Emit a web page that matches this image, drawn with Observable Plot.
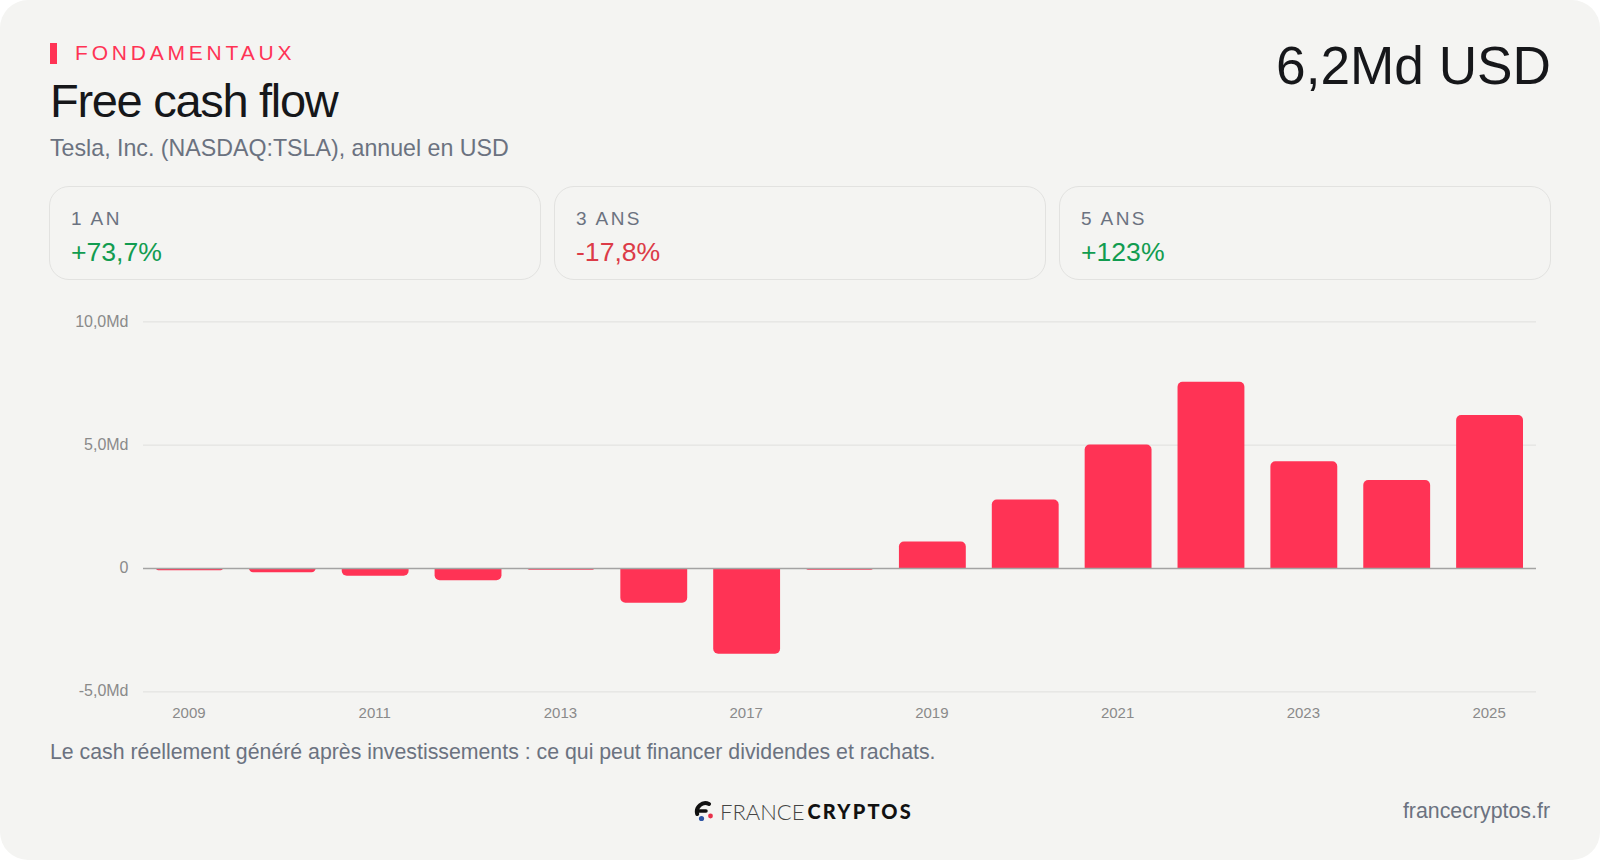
<!DOCTYPE html>
<html lang="fr">
<head>
<meta charset="utf-8">
<title>Free cash flow</title>
<script src="https://cdn.jsdelivr.net/npm/d3@7"></script>
<script src="https://cdn.jsdelivr.net/npm/@observablehq/plot@0.6"></script>
<style>
html,body{margin:0;padding:0;background:#fff;width:1600px;height:860px;overflow:hidden}
body{font-family:"Liberation Sans",Arial,sans-serif}
#card{position:absolute;left:0;top:0;width:1600px;height:860px;background:#f4f4f2;border-radius:28px;overflow:hidden}
#card>div{position:absolute;white-space:nowrap}
.kpi{box-sizing:border-box;top:186px;height:94px;width:492px;border:1.5px solid #e2e2e0;border-radius:20px}
.kpi .l{position:absolute;left:21px;top:21px;font-size:19px;letter-spacing:2.4px;color:#6b7280;line-height:22px}
.kpi .v{position:absolute;left:21px;top:49px;font-size:26.6px;line-height:32px;letter-spacing:0}
#chart{left:0;top:300px;width:1600px;height:440px}
#chart svg{display:block;overflow:visible}
</style>
</head>
<body>
<div id="card">
  <div id="bar" style="left:50px;top:43px;width:7px;height:21px;background:#ff3355"></div>
  <div id="eyebrow" style="left:75px;top:39.5px;font-size:21px;line-height:26px;letter-spacing:3.8px;color:#ff3355"></div>
  <div id="title" style="left:50px;top:72px;font-size:47px;line-height:58px;letter-spacing:-1.3px;color:#16171a"></div>
  <div id="subtitle" style="left:50px;top:133px;font-size:23.2px;line-height:30px;color:#6b7280"></div>
  <div id="big" style="right:49px;top:33px;font-size:53.2px;line-height:66px;color:#16171a"></div>
  <div class="kpi" style="left:49px"><span class="l"></span><span class="v"></span></div>
  <div class="kpi" style="left:554px"><span class="l"></span><span class="v"></span></div>
  <div class="kpi" style="left:1059px"><span class="l"></span><span class="v"></span></div>
  <div id="chart"></div>
  <div id="note" style="left:50px;top:737px;font-size:21.3px;line-height:30px;color:#6b7280"></div>
  <div id="logo" style="left:694px;top:797px;height:28px;display:flex;align-items:center">
    <svg width="22" height="24" viewBox="0 0 22 24" style="margin-right:4px">
      <path d="M15 5 A8.5 8.5 0 0 0 3.2 15" fill="none" stroke="#111" stroke-width="4" stroke-linecap="round"/>
      <path d="M3.5 12 H12" stroke="#111" stroke-width="3.5" stroke-linecap="round"/>
      <circle cx="7.5" cy="19.5" r="2.6" fill="#2f55a4"/>
      <circle cx="16.5" cy="17" r="2.4" fill="#e8304a"/>
    </svg>
    <span style="font-family:Lato;font-weight:300;font-size:22px;letter-spacing:0;color:#444">FRANCE</span>
    <span style="font-family:Lato;font-weight:900;font-size:20px;letter-spacing:2.2px;color:#111;margin-left:3px">CRYPTOS</span>
  </div>
  <div id="site" style="right:50px;top:796px;font-size:21.35px;line-height:30px;color:#6b7280"></div>
</div>
<script>
const years = ["2009","2010","2011","2012","2013","2016","2017","2018","2019","2020","2021","2022","2023","2024","2025"];
const fcf = [-0.09,-0.17,-0.31,-0.5,-0.07,-1.41,-3.48,-0.07,1.07,2.78,5.01,7.55,4.33,3.57,6.2];
const xTicks = ["2009","2011","2013","2017","2019","2021","2023","2025"];
const yTicks = [-5,0,5,10];
const kpiLabels = ["1 AN","3 ANS","5 ANS"];
const kpiValues = ["+73,7%","-17,8%","+123%"];
const kpiColors = ["#119c50","#dc3b47","#119c50"];

document.getElementById("eyebrow").textContent = "FONDAMENTAUX";
document.getElementById("title").textContent = "Free cash flow";
document.getElementById("subtitle").textContent = "Tesla, Inc. (NASDAQ:TSLA), annuel en USD";
document.getElementById("big").textContent = "6,2Md USD";
document.getElementById("note").textContent = "Le cash réellement généré après investissements : ce qui peut financer dividendes et rachats.";
document.getElementById("site").textContent = "francecryptos.fr";
document.querySelectorAll(".kpi").forEach((el,i)=>{
  el.querySelector(".l").textContent = kpiLabels[i];
  const v = el.querySelector(".v");
  v.textContent = kpiValues[i];
  v.style.color = kpiColors[i];
});

const rows = years.map((year,i)=>({year,value:fcf[i]}));
const fmt = d => d === 0 ? "0" : d.toFixed(1).replace(".",",") + "Md";
const red = "#ff3355";

const chart = Plot.plot({
  width: 1600,
  height: 440,
  marginTop: 21.4,
  marginBottom: 48.7,
  marginLeft: 143,
  marginRight: 64,
  style: {background:"transparent", fontFamily:'"Liberation Sans",Arial,sans-serif'},
  x: {type:"band", domain:years, paddingInner:0.28, paddingOuter:0.14, align:0.5, round:false, label:null},
  y: {domain:[-5,10], label:null},
  marks: [
    Plot.ruleY(yTicks.filter(d=>d!==0), {stroke:"#e3e3e1", strokeWidth:1.2, strokeOpacity:1}),
    Plot.barY(rows.filter(d=>d.value>=0), {x:"year", y:"value", fill:red, rx1y1:5, rx2y1:5}),
    Plot.barY(rows.filter(d=>d.value<0), {x:"year", y:"value", fill:red, rx1y2:5, rx2y2:5}),
    Plot.ruleY([0], {stroke:"#a3a3a3", strokeWidth:1.6}),
    Plot.axisY({ticks:yTicks, tickSize:0, tickPadding:15, tickFormat:fmt, fontSize:16, color:"#8a8a8a", label:null, marginLeft:143, dy:-0.5}),
    Plot.axisX({ticks:xTicks, tickSize:0, tickPadding:16, fontSize:15, color:"#8a8a8a", label:null, dx:-1})
  ]
});
document.getElementById("chart").appendChild(chart);
</script>
</body>
</html>
